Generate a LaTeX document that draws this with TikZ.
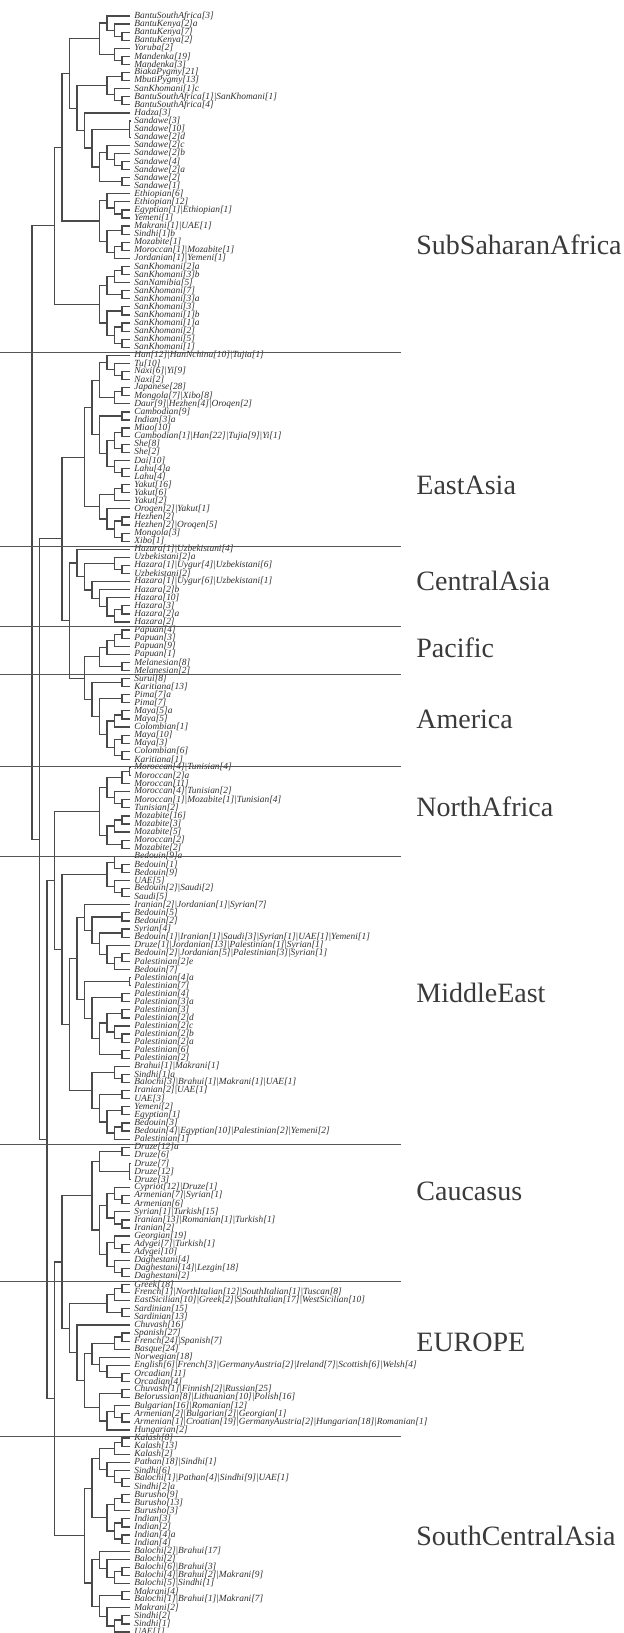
\documentclass[tikz,border=0pt]{standalone}
\usepackage{fontspec}
\setmainfont{Liberation Serif}
\definecolor{treec}{HTML}{4A4A4A}
\definecolor{leafc}{HTML}{2E2E2E}
\definecolor{regc}{HTML}{3A3A3A}
\definecolor{sepc}{HTML}{555555}
\newcount\lfcnt
\newcommand\lf[1]{%
  \pgfmathsetmacro\tmpy{16+8.08*\the\lfcnt}%
  \expandafter\xdef\csname ny@L\the\lfcnt\endcsname{\tmpy}%
  \coordinate (L\the\lfcnt) at (130,\tmpy);
  \node[leaf] (L\the\lfcnt t) at (L\the\lfcnt) {#1};
  \global\advance\lfcnt by 1\relax}
\newcommand\joinn[4]{%
  \pgfmathsetmacro\tmpy{(\csname ny@#3\endcsname+\csname ny@#4\endcsname)/2}%
  \expandafter\xdef\csname ny@#1\endcsname{\tmpy}%
  \pgfmathsetmacro\tmpx{129.5-7.5*#2}%
  \coordinate (#1) at (\tmpx,\tmpy);
  \draw[br] (#3) -| (#1) |- (#4);}
\newcommand\trip[4]{%
  \pgfmathsetmacro\tmpy{(\csname ny@#2\endcsname+\csname ny@#4\endcsname)/2}%
  \expandafter\xdef\csname ny@#1\endcsname{\tmpy}%
  \coordinate (#1) at (129.5,\tmpy);
  \draw[br] (#2) -| (#1) |- (#4);}
\begin{document}
\begin{tikzpicture}[x=0.5pt,y=-0.5pt,
  br/.style={draw=treec,line width=0.6pt},
  leaf/.style={anchor=west,inner xsep=2pt,inner ysep=0pt,font=\fontsize{4.7}{5}\selectfont\itshape,text=leafc},
  region/.style={anchor=west,inner sep=0pt,font=\fontsize{14}{16}\selectfont,text=regc},
  sep/.style={draw=sepc,line width=0.5pt}]
\useasboundingbox (0,0) rectangle (624,1633);
\lfcnt=0
% ---------- leaves ----------
\lf{BantuSouthAfrica[3]}
\lf{BantuKenya[2]a}
\lf{BantuKenya[7]}
\lf{BantuKenya[2]}
\lf{Yoruba[2]}
\lf{Mandenka[19]}
\lf{Mandenka[3]}
\lf{BiakaPygmy[21]}
\lf{MbutiPygmy[13]}
\lf{SanKhomani[1]c}
\lf{BantuSouthAfrica[1]|SanKhomani[1]}
\lf{BantuSouthAfrica[4]}
\lf{Hadza[3]}
\lf{Sandawe[3]}
\lf{Sandawe[10]}
\lf{Sandawe[2]d}
\lf{Sandawe[2]c}
\lf{Sandawe[2]b}
\lf{Sandawe[4]}
\lf{Sandawe[2]a}
\lf{Sandawe[2]}
\lf{Sandawe[1]}
\lf{Ethiopian[6]}
\lf{Ethiopian[12]}
\lf{Egyptian[1]|Ethiopian[1]}
\lf{Yemeni[1]}
\lf{Makrani[1]|UAE[1]}
\lf{Sindhi[1]b}
\lf{Mozabite[1]}
\lf{Moroccan[1]|Mozabite[1]}
\lf{Jordanian[1]|Yemeni[1]}
\lf{SanKhomani[2]a}
\lf{SanKhomani[3]b}
\lf{SanNamibia[5]}
\lf{SanKhomani[7]}
\lf{SanKhomani[3]a}
\lf{SanKhomani[3]}
\lf{SanKhomani[1]b}
\lf{SanKhomani[1]a}
\lf{SanKhomani[2]}
\lf{SanKhomani[5]}
\lf{SanKhomani[1]}
\lf{Han[12]|HanNchina[10]|Tujia[1]}
\lf{Tu[10]}
\lf{Naxi[6]|Yi[9]}
\lf{Naxi[2]}
\lf{Japanese[28]}
\lf{Mongola[7]|Xibo[8]}
\lf{Daur[9]|Hezhen[4]|Oroqen[2]}
\lf{Cambodian[9]}
\lf{Indian[3]a}
\lf{Miao[10]}
\lf{Cambodian[1]|Han[22]|Tujia[9]|Yi[1]}
\lf{She[8]}
\lf{She[2]}
\lf{Dai[10]}
\lf{Lahu[4]a}
\lf{Lahu[4]}
\lf{Yakut[16]}
\lf{Yakut[6]}
\lf{Yakut[2]}
\lf{Oroqen[2]|Yakut[1]}
\lf{Hezhen[2]}
\lf{Hezhen[2]|Oroqen[5]}
\lf{Mongola[3]}
\lf{Xibo[1]}
\lf{Hazara[1]|Uzbekistani[4]}
\lf{Uzbekistani[2]a}
\lf{Hazara[1]|Uygur[4]|Uzbekistani[6]}
\lf{Uzbekistani[2]}
\lf{Hazara[1]|Uygur[6]|Uzbekistani[1]}
\lf{Hazara[2]b}
\lf{Hazara[10]}
\lf{Hazara[3]}
\lf{Hazara[2]a}
\lf{Hazara[2]}
\lf{Papuan[4]}
\lf{Papuan[3]}
\lf{Papuan[9]}
\lf{Papuan[1]}
\lf{Melanesian[8]}
\lf{Melanesian[2]}
\lf{Surui[8]}
\lf{Karitiana[13]}
\lf{Pima[7]a}
\lf{Pima[7]}
\lf{Maya[5]a}
\lf{Maya[5]}
\lf{Colombian[1]}
\lf{Maya[10]}
\lf{Maya[3]}
\lf{Colombian[6]}
\lf{Karitiana[1]}
\lf{Moroccan[4]|Tunisian[4]}
\lf{Moroccan[2]a}
\lf{Moroccan[11]}
\lf{Moroccan[4]|Tunisian[2]}
\lf{Moroccan[1]|Mozabite[1]|Tunisian[4]}
\lf{Tunisian[2]}
\lf{Mozabite[16]}
\lf{Mozabite[3]}
\lf{Mozabite[5]}
\lf{Moroccan[2]}
\lf{Mozabite[2]}
\lf{Bedouin[9]a}
\lf{Bedouin[1]}
\lf{Bedouin[9]}
\lf{UAE[5]}
\lf{Bedouin[2]|Saudi[2]}
\lf{Saudi[5]}
\lf{Iranian[2]|Jordanian[1]|Syrian[7]}
\lf{Bedouin[5]}
\lf{Bedouin[2]}
\lf{Syrian[4]}
\lf{Bedouin[1]|Iranian[1]|Saudi[3]|Syrian[1]|UAE[1]|Yemeni[1]}
\lf{Druze[1]|Jordanian[13]|Palestinian[1]|Syrian[1]}
\lf{Bedouin[2]|Jordanian[5]|Palestinian[3]|Syrian[1]}
\lf{Palestinian[2]e}
\lf{Bedouin[7]}
\lf{Palestinian[4]a}
\lf{Palestinian[7]}
\lf{Palestinian[4]}
\lf{Palestinian[3]a}
\lf{Palestinian[3]}
\lf{Palestinian[2]d}
\lf{Palestinian[2]c}
\lf{Palestinian[2]b}
\lf{Palestinian[2]a}
\lf{Palestinian[6]}
\lf{Palestinian[2]}
\lf{Brahui[1]|Makrani[1]}
\lf{Sindhi[1]a}
\lf{Balochi[3]|Brahui[1]|Makrani[1]|UAE[1]}
\lf{Iranian[2]|UAE[1]}
\lf{UAE[3]}
\lf{Yemeni[2]}
\lf{Egyptian[1]}
\lf{Bedouin[3]}
\lf{Bedouin[4]|Egyptian[10]|Palestinian[2]|Yemeni[2]}
\lf{Palestinian[1]}
\lf{Druze[12]a}
\lf{Druze[6]}
\lf{Druze[7]}
\lf{Druze[12]}
\lf{Druze[3]}
\lf{Cypriot[12]|Druze[1]}
\lf{Armenian[7]|Syrian[1]}
\lf{Armenian[6]}
\lf{Syrian[1]|Turkish[15]}
\lf{Iranian[13]|Romanian[1]|Turkish[1]}
\lf{Iranian[2]}
\lf{Georgian[19]}
\lf{Adygei[7]|Turkish[1]}
\lf{Adygei[10]}
\lf{Daghestani[4]}
\lf{Daghestani[14]|Lezgin[18]}
\lf{Daghestani[2]}
\lf{Greek[18]}
\lf{French[1]|NorthItalian[12]|SouthItalian[1]|Tuscan[8]}
\lf{EastSicilian[10]|Greek[2]|SouthItalian[17]|WestSicilian[10]}
\lf{Sardinian[15]}
\lf{Sardinian[13]}
\lf{Chuvash[16]}
\lf{Spanish[27]}
\lf{French[24]|Spanish[7]}
\lf{Basque[24]}
\lf{Norwegian[18]}
\lf{English[6]|French[3]|GermanyAustria[2]|Ireland[7]|Scottish[6]|Welsh[4]}
\lf{Orcadian[11]}
\lf{Orcadian[4]}
\lf{Chuvash[1]|Finnish[2]|Russian[25]}
\lf{Belorussian[8]|Lithuanian[10]|Polish[16]}
\lf{Bulgarian[16]|Romanian[12]}
\lf{Armenian[2]|Bulgarian[2]|Georgian[1]}
\lf{Armenian[1]|Croatian[19]|GermanyAustria[2]|Hungarian[18]|Romanian[1]}
\lf{Hungarian[2]}
\lf{Kalash[8]}
\lf{Kalash[13]}
\lf{Kalash[2]}
\lf{Pathan[18]|Sindhi[1]}
\lf{Sindhi[6]}
\lf{Balochi[1]|Pathan[4]|Sindhi[9]|UAE[1]}
\lf{Sindhi[2]a}
\lf{Burusho[9]}
\lf{Burusho[13]}
\lf{Burusho[3]}
\lf{Indian[3]}
\lf{Indian[2]}
\lf{Indian[4]a}
\lf{Indian[4]}
\lf{Balochi[2]|Brahui[17]}
\lf{Balochi[2]}
\lf{Balochi[6]|Brahui[3]}
\lf{Balochi[4]|Brahui[2]|Makrani[9]}
\lf{Balochi[5]|Sindhi[1]}
\lf{Makrani[4]}
\lf{Balochi[1]|Brahui[1]|Makrani[7]}
\lf{Makrani[2]}
\lf{Sindhi[2]}
\lf{Sindhi[1]}
\lf{UAE[1]}
% ---------- Africa ----------
\joinn{a1}{1}{L2}{L3}
\joinn{a2}{2}{L1}{a1}
\joinn{a3}{3}{L0}{a2}
\joinn{b1}{1}{L5}{L6}
\joinn{b2}{2}{L4}{b1}
\joinn{ab}{4}{a3}{b2}
\joinn{p1}{1}{L7}{L8}
\joinn{p2}{1}{L10}{L11}
\joinn{p3}{2}{L9}{p2}
\joinn{p4}{3}{p1}{p3}
\trip{sT}{L13}{L14}{L15}
\joinn{s1}{1}{L18}{L19}
\joinn{s2}{2}{L17}{s1}
\joinn{s3}{3}{L16}{s2}
\joinn{s4}{1}{L20}{L21}
\joinn{s5}{4}{s3}{s4}
\joinn{s6}{5}{sT}{s5}
\joinn{hs}{6}{L12}{s6}
\joinn{ps}{7}{p4}{hs}
\joinn{abps}{8}{ab}{ps}
\joinn{e1}{1}{L24}{L25}
\joinn{e2}{2}{L23}{e1}
\joinn{e3}{3}{L22}{e2}
\joinn{m1}{1}{L26}{L27}
\joinn{m2}{1}{L28}{L29}
\joinn{m3}{2}{m2}{L30}
\joinn{m4}{3}{m1}{m3}
\joinn{em}{4}{e3}{m4}
\joinn{E1}{9}{abps}{em}
\joinn{k1}{1}{L31}{L32}
\joinn{k2}{2}{k1}{L33}
\joinn{k3}{1}{L34}{L35}
\joinn{k4}{3}{k2}{k3}
\joinn{k5}{1}{L36}{L37}
\joinn{k6}{1}{L38}{L39}
\joinn{k7}{1}{L40}{L41}
\joinn{k8}{2}{k6}{k7}
\joinn{k9}{3}{k5}{k8}
\joinn{k10}{4}{k4}{k9}
\joinn{AF}{10}{E1}{k10}
% ---------- East Asia ----------
\joinn{n1}{1}{L44}{L45}
\joinn{n2}{2}{L43}{n1}
\joinn{n3}{3}{L42}{n2}
\joinn{j1}{1}{L46}{L47}
\joinn{j2}{2}{j1}{L48}
\joinn{ea1}{4}{n3}{j2}
\joinn{c1}{1}{L49}{L50}
\joinn{c2}{1}{L51}{L52}
\joinn{c3}{1}{L53}{L54}
\joinn{c4}{2}{c2}{c3}
\joinn{c5}{1}{L56}{L57}
\joinn{c6}{2}{L55}{c5}
\joinn{c7}{3}{c4}{c6}
\joinn{c8}{4}{c1}{c7}
\joinn{ea2}{5}{ea1}{c8}
\joinn{y1}{1}{L58}{L59}
\joinn{y2}{2}{y1}{L60}
\joinn{y3}{1}{L62}{L63}
\joinn{y4}{1}{L64}{L65}
\joinn{y5}{2}{y3}{y4}
\joinn{y6}{3}{L61}{y5}
\joinn{y7}{4}{y2}{y6}
\joinn{ea}{6}{ea2}{y7}
% ---------- Central Asia ----------
\joinn{u1}{1}{L68}{L69}
\joinn{u2}{2}{L67}{u1}
\joinn{u3}{1}{L73}{L74}
\joinn{u4}{2}{u3}{L75}
\joinn{u5}{3}{L72}{u4}
\joinn{u6}{4}{L71}{u5}
\joinn{u7}{5}{L70}{u6}
\joinn{u8}{6}{u2}{u7}
\joinn{u9}{7}{L66}{u8}
% ---------- Pacific / America ----------
\joinn{q1}{1}{L76}{L77}
\joinn{q2}{2}{q1}{L78}
\joinn{q3}{3}{q2}{L79}
\joinn{q4}{1}{L80}{L81}
\joinn{q5}{4}{q3}{q4}
\joinn{r1}{1}{L82}{L83}
\joinn{r2}{1}{L84}{L85}
\joinn{r3}{1}{L86}{L87}
\joinn{r4}{2}{r3}{L88}
\joinn{r5}{1}{L89}{L90}
\joinn{r6}{1}{L91}{L92}
\joinn{r7}{2}{r5}{r6}
\joinn{r8}{3}{r4}{r7}
\joinn{r9}{4}{r2}{r8}
\joinn{r10}{5}{r1}{r9}
\joinn{PA}{6}{q5}{r10}
\joinn{CAPA}{8}{u9}{PA}
\joinn{EAS}{9}{ea}{CAPA}
% ---------- North Africa ----------
\joinn{nz}{0}{L93}{L94}
\joinn{na1}{1}{nz}{L95}
\joinn{na2}{1}{L97}{L98}
\joinn{na3}{2}{L96}{na2}
\joinn{na4}{3}{na1}{na3}
\joinn{z1}{1}{L99}{L100}
\joinn{z2}{2}{z1}{L101}
\joinn{z3}{1}{L102}{L103}
\joinn{z4}{3}{z2}{z3}
\joinn{NA}{4}{na4}{z4}
% ---------- Middle East ----------
\joinn{mb1}{1}{L105}{L106}
\joinn{mb2}{2}{L104}{mb1}
\joinn{mb3}{1}{L108}{L109}
\joinn{mb4}{2}{L107}{mb3}
\joinn{mb5}{3}{mb2}{mb4}
\joinn{i1}{1}{L111}{L112}
\joinn{i2}{1}{L113}{L114}
\joinn{i3}{1}{L116}{L117}
\joinn{i4}{2}{i3}{L118}
\joinn{i5}{3}{L115}{i4}
\joinn{i6}{4}{i2}{i5}
\joinn{i7}{5}{i1}{i6}
\joinn{i8}{6}{L110}{i7}
\joinn{tz}{0}{L119}{L120}
\joinn{t1}{1}{L121}{L122}
\joinn{t2}{1}{L123}{L124}
\joinn{t3}{1}{L126}{L127}
\joinn{t4}{2}{L125}{t3}
\joinn{t5}{3}{t2}{t4}
\joinn{t6}{1}{L128}{L129}
\joinn{t7}{4}{t5}{t6}
\joinn{t8}{5}{t1}{t7}
\joinn{t9}{6}{tz}{t8}
\joinn{U}{7}{i8}{t9}
\joinn{w1}{1}{L131}{L132}
\joinn{w2}{2}{L130}{w1}
\joinn{w3}{1}{L133}{L134}
\joinn{w4}{1}{L135}{L136}
\joinn{w5}{1}{L137}{L138}
\joinn{w6}{2}{w5}{L139}
\joinn{w7}{3}{w4}{w6}
\joinn{w8}{4}{w3}{w7}
\joinn{w9}{5}{w2}{w8}
\joinn{ME8}{8}{U}{w9}
\joinn{ME}{9}{mb5}{ME8}
\joinn{N10}{10}{NA}{ME}
% ---------- Caucasus ----------
\joinn{d1}{1}{L140}{L141}
\trip{dz}{L142}{L143}{L144}
\joinn{D}{4}{d1}{dz}
\joinn{cc1}{1}{L146}{L147}
\joinn{cc2}{2}{L145}{cc1}
\joinn{cc3}{1}{L149}{L150}
\joinn{cc4}{2}{L148}{cc3}
\joinn{cc5}{3}{cc2}{cc4}
\joinn{g1}{1}{L152}{L153}
\joinn{g2}{2}{L151}{g1}
\joinn{g3}{1}{L155}{L156}
\joinn{g4}{2}{L154}{g3}
\joinn{g5}{3}{g2}{g4}
\joinn{g6}{4}{cc5}{g5}
\joinn{CC}{5}{D}{g6}
% ---------- Europe ----------
\joinn{eu1}{1}{L157}{L158}
\joinn{eu2}{2}{eu1}{L159}
\joinn{eu3}{1}{L160}{L161}
\joinn{eu4}{3}{eu2}{eu3}
\joinn{sp1}{1}{L163}{L164}
\joinn{sp2}{2}{sp1}{L165}
\joinn{o1}{1}{L168}{L169}
\joinn{o2}{3}{L167}{o1}
\joinn{o3}{4}{L166}{o2}
\joinn{sp3}{5}{sp2}{o3}
\joinn{x1}{1}{L170}{L171}
\joinn{x2}{1}{L173}{L174}
\joinn{x3}{2}{L172}{x2}
\joinn{x4}{3}{x3}{L175}
\joinn{x5}{4}{x1}{x4}
\joinn{ee}{6}{sp3}{x5}
\joinn{ch}{7}{L162}{ee}
\joinn{WE}{8}{eu4}{ch}
\joinn{CE}{9}{CC}{WE}
% ---------- South Central Asia ----------
\joinn{ka1}{1}{L176}{L177}
\joinn{ka2}{2}{ka1}{L178}
\joinn{pa1}{1}{L181}{L182}
\joinn{pa2}{2}{L180}{pa1}
\joinn{pa3}{3}{L179}{pa2}
\joinn{ka3}{4}{ka2}{pa3}
\joinn{bu1}{1}{L183}{L184}
\joinn{bu2}{2}{bu1}{L185}
\joinn{in1}{1}{L186}{L187}
\joinn{in2}{1}{L188}{L189}
\joinn{in3}{2}{in1}{in2}
\joinn{bu3}{3}{bu2}{in3}
\joinn{SA}{5}{ka3}{bu3}
\joinn{bl1}{1}{L192}{L193}
\joinn{bl2}{2}{bl1}{L194}
\joinn{bl3}{3}{L191}{bl2}
\joinn{bl4}{4}{L190}{bl3}
\joinn{mk1}{1}{L195}{L196}
\joinn{mk2}{1}{L198}{L199}
\joinn{mk2b}{2}{mk2}{L200}
\joinn{mk3}{3}{L197}{mk2b}
\joinn{mk4}{4}{mk1}{mk3}
\joinn{SB}{5}{bl4}{mk4}
\joinn{SCA}{6}{SA}{SB}
% ---------- backbone ----------
\joinn{CES}{10}{CE}{SCA}
\joinn{Y11}{11}{N10}{CES}
\joinn{X12}{12}{EAS}{Y11}
\joinn{R13}{13}{AF}{X12}
% ---------- separators ----------
\draw[sep] (0,352) -- (401,352);
\draw[sep] (0,546.5) -- (401,546.5);
\draw[sep] (0,626.5) -- (401,626.5);
\draw[sep] (0,674.7) -- (401,674.7);
\draw[sep] (0,766) -- (401,766);
\draw[sep] (0,856) -- (401,856);
\draw[sep] (0,1144.7) -- (401,1144.7);
\draw[sep] (0,1281.3) -- (401,1281.3);
\draw[sep] (0,1436.7) -- (401,1436.7);
% ---------- region labels ----------
\node[region] (rSSA) at (416,245) {SubSaharanAfrica};
\node[region] (rEA) at (416,485) {EastAsia};
\node[region] (rCA) at (416,581) {CentralAsia};
\node[region] (rPA) at (416,648) {Pacific};
\node[region] (rAM) at (416,719) {America};
\node[region] (rNA) at (416,807) {NorthAfrica};
\node[region] (rME) at (416,993) {MiddleEast};
\node[region] (rCC) at (416,1191) {Caucasus};
\node[region] (rEU) at (416,1342) {EUROPE};
\node[region] (rSC) at (416,1536) {SouthCentralAsia};
\end{tikzpicture}
\end{document}
